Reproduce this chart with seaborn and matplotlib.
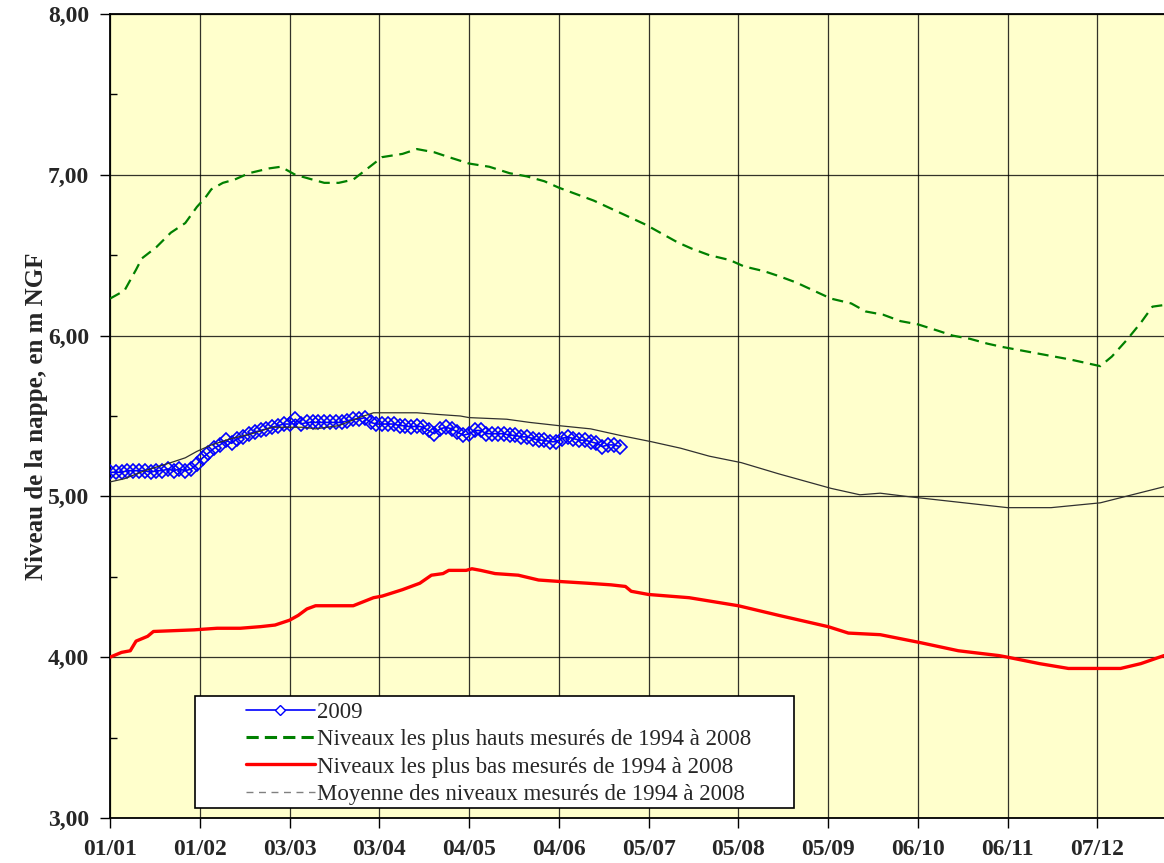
import pandas as pd
import seaborn as sns
import matplotlib.pyplot as plt
from matplotlib.lines import Line2D
from matplotlib.patches import Rectangle
from matplotlib.ticker import FixedLocator, MultipleLocator, FuncFormatter

# axe des x : jours depuis le 01/01
tick_days = [0, 31, 62, 93, 124, 155, 186, 217, 248, 279, 310, 341]
tick_labels = ['01/01', '01/02', '03/03', '03/04', '04/05', '04/06',
               '05/07', '05/08', '05/09', '06/10', '06/11', '07/12']

# 2009 (un point tous les 2 jours)
days_2009 = list(range(0, 177, 2))
niv_2009 = [5.15, 5.15, 5.15, 5.16, 5.16, 5.16, 5.16, 5.15, 5.16, 5.16,
            5.17, 5.16, 5.17, 5.16, 5.17, 5.20, 5.24, 5.27, 5.30, 5.32,
            5.35, 5.33, 5.36, 5.37, 5.39, 5.40, 5.41, 5.42, 5.43, 5.44,
            5.45, 5.45, 5.48, 5.45, 5.46, 5.46, 5.46, 5.46, 5.46, 5.46,
            5.46, 5.47, 5.48, 5.48, 5.49, 5.46, 5.45, 5.45, 5.45, 5.45,
            5.44, 5.44, 5.43, 5.44, 5.43, 5.41, 5.39, 5.42, 5.43, 5.42,
            5.40, 5.38, 5.39, 5.41, 5.41, 5.39, 5.39, 5.39, 5.39, 5.38,
            5.38, 5.37, 5.37, 5.36, 5.35, 5.35, 5.34, 5.34, 5.36, 5.37,
            5.36, 5.35, 5.35, 5.34, 5.33, 5.31, 5.32, 5.32, 5.31]

# niveaux les plus hauts 1994-2008
days_haut = [0, 5, 9, 11, 16, 21, 26, 30, 33, 35, 39, 43, 48, 55, 59, 64, 70, 74,
             79, 84, 89, 94, 101, 106, 112, 117, 124, 131, 138, 144, 150, 155, 161,
             167, 173, 179, 185, 190, 196, 201, 207, 214, 219, 226, 231, 237, 243,
             249, 256, 261, 267, 273, 279, 286, 291, 297, 303, 308, 314, 320, 326,
             332, 337, 342, 346, 351, 356, 360, 364]
niv_haut = [6.23, 6.28, 6.41, 6.48, 6.55, 6.64, 6.70, 6.80, 6.86, 6.91, 6.95, 6.97,
            7.01, 7.04, 7.05, 7.00, 6.97, 6.95, 6.95, 6.97, 7.04, 7.11, 7.13, 7.16,
            7.14, 7.11, 7.07, 7.05, 7.01, 6.99, 6.96, 6.92, 6.88, 6.84, 6.79, 6.74,
            6.69, 6.64, 6.58, 6.54, 6.50, 6.47, 6.43, 6.40, 6.37, 6.33, 6.28, 6.23,
            6.20, 6.15, 6.13, 6.09, 6.07, 6.03, 6.00, 5.98, 5.95, 5.93, 5.91, 5.89,
            5.87, 5.85, 5.83, 5.81, 5.87, 5.97, 6.08, 6.18, 6.19]

# niveaux les plus bas 1994-2008
days_bas = [0, 4, 7, 9, 13, 15, 29, 37, 45, 52, 57, 62, 65, 68, 71, 84, 91, 94, 101,
            107, 111, 115, 117, 123, 125, 128, 133, 141, 148, 156, 165, 173, 178,
            180, 186, 200, 217, 231, 248, 255, 266, 280, 293, 307, 310, 321, 331,
            342, 349, 356, 364]
niv_bas = [4.00, 4.03, 4.04, 4.10, 4.13, 4.16, 4.17, 4.18, 4.18, 4.19, 4.20, 4.23,
           4.26, 4.30, 4.32, 4.32, 4.37, 4.38, 4.42, 4.46, 4.51, 4.52, 4.54, 4.54,
           4.55, 4.54, 4.52, 4.51, 4.48, 4.47, 4.46, 4.45, 4.44, 4.41, 4.39, 4.37,
           4.32, 4.26, 4.19, 4.15, 4.14, 4.09, 4.04, 4.01, 4.00, 3.96, 3.93, 3.93,
           3.93, 3.96, 4.01]

# moyenne 1994-2008
days_moy = [0, 5, 12, 21, 26, 30, 35, 42, 49, 56, 62, 67, 71, 79, 86, 91, 100, 106,
            113, 121, 124, 137, 145, 155, 166, 176, 187, 197, 207, 218, 231, 249,
            259, 266, 275, 285, 310, 325, 342, 353, 364]
niv_moy = [5.09, 5.11, 5.16, 5.21, 5.24, 5.28, 5.32, 5.36, 5.39, 5.43, 5.43, 5.43,
           5.42, 5.44, 5.49, 5.52, 5.52, 5.52, 5.51, 5.50, 5.49, 5.48, 5.46, 5.44,
           5.42, 5.38, 5.34, 5.30, 5.25, 5.21, 5.14, 5.05, 5.01, 5.02, 5.00, 4.98,
           4.93, 4.93, 4.96, 5.01, 5.06]

lab_2009 = '2009'
lab_haut = 'Niveaux les plus hauts mesurés de 1994 à 2008'
lab_bas = 'Niveaux les plus bas mesurés de 1994 à 2008'
lab_moy = 'Moyenne des niveaux mesurés de 1994 à 2008'

sns.set_theme(style='ticks')
plt.rcParams['font.family'] = ['Liberation Serif', 'DejaVu Serif']

W, H = 1164, 863
fig = plt.figure(figsize=(W / 100, H / 100), dpi=100)
ax = fig.add_axes([110 / W, (H - 818) / H, 1054 / W, 804 / H])
ax.set_facecolor('#FFFFCC')

sns.lineplot(x=days_2009, y=niv_2009, ax=ax, color='#0000FF', lw=1.2,
             marker='D', markersize=7.5, markerfacecolor='none',
             markeredgecolor='#0000FF', markeredgewidth=1.2, zorder=3)
sns.lineplot(x=days_haut, y=niv_haut, ax=ax, color='#008000', lw=1.6,
             linestyle=(0, (5, 3)), zorder=3)
sns.lineplot(x=days_bas, y=niv_bas, ax=ax, color='#FF0000', lw=2.4, zorder=3)
sns.lineplot(x=days_moy, y=niv_moy, ax=ax, color='#303030', lw=0.9, zorder=4)

ax.set_xlim(0, 364)
ax.set_ylim(3, 8)
ax.xaxis.set_major_locator(FixedLocator(tick_days))
ax.set_xticklabels(tick_labels)
ax.yaxis.set_major_locator(MultipleLocator(1))
ax.yaxis.set_minor_locator(MultipleLocator(0.5))
ax.yaxis.set_major_formatter(FuncFormatter(lambda v, p: f'{v:.2f}'.replace('.', ',')))

ax.grid(True, which='major', color='black', lw=0.9, alpha=0.8)
ax.set_axisbelow(True)
ax.tick_params(axis='both', which='major', direction='out', length=7, width=1,
               color='black', labelsize=17, pad=8)
ax.tick_params(axis='y', which='minor', direction='in', length=5, width=1, color='black')
for lbl in ax.get_xticklabels() + ax.get_yticklabels():
    lbl.set_fontweight('bold')

for side in ['left', 'bottom', 'top']:
    ax.spines[side].set_color('black')
    ax.spines[side].set_linewidth(1.3)
ax.spines['right'].set_visible(False)

ax.set_xlabel('')
ax.set_ylabel('Niveau de la nappe, en m NGF', fontsize=18, fontweight='bold', labelpad=0)

# cadre de la légende
ax.add_patch(Rectangle((195 / W, (H - 808) / H), 599 / W, 112 / H,
                       transform=fig.transFigure, facecolor='white',
                       edgecolor='black', lw=1.2, zorder=6, clip_on=False))

handles = [
    Line2D([], [], color='#0000FF', lw=1.2, marker='D', markersize=5,
           markerfacecolor='white', markeredgecolor='#0000FF'),
    Line2D([], [], color='#008000', lw=2.2, linestyle=(0, (4, 2))),
    Line2D([], [], color='#FF0000', lw=2.4),
    Line2D([], [], color='#808080', lw=1.0, linestyle=(0, (5, 4))),
]
leg = ax.legend(handles, [lab_2009, lab_haut, lab_bas, lab_moy],
                loc='upper left', bbox_to_anchor=(246 / W, (H - 702) / H),
                bbox_transform=fig.transFigure, frameon=False, fontsize=16.5,
                handlelength=3.0, handletextpad=0.1, labelspacing=0.27,
                borderpad=0, borderaxespad=0)
leg.set_zorder(7)

fig.savefig('out.png', dpi=100)
